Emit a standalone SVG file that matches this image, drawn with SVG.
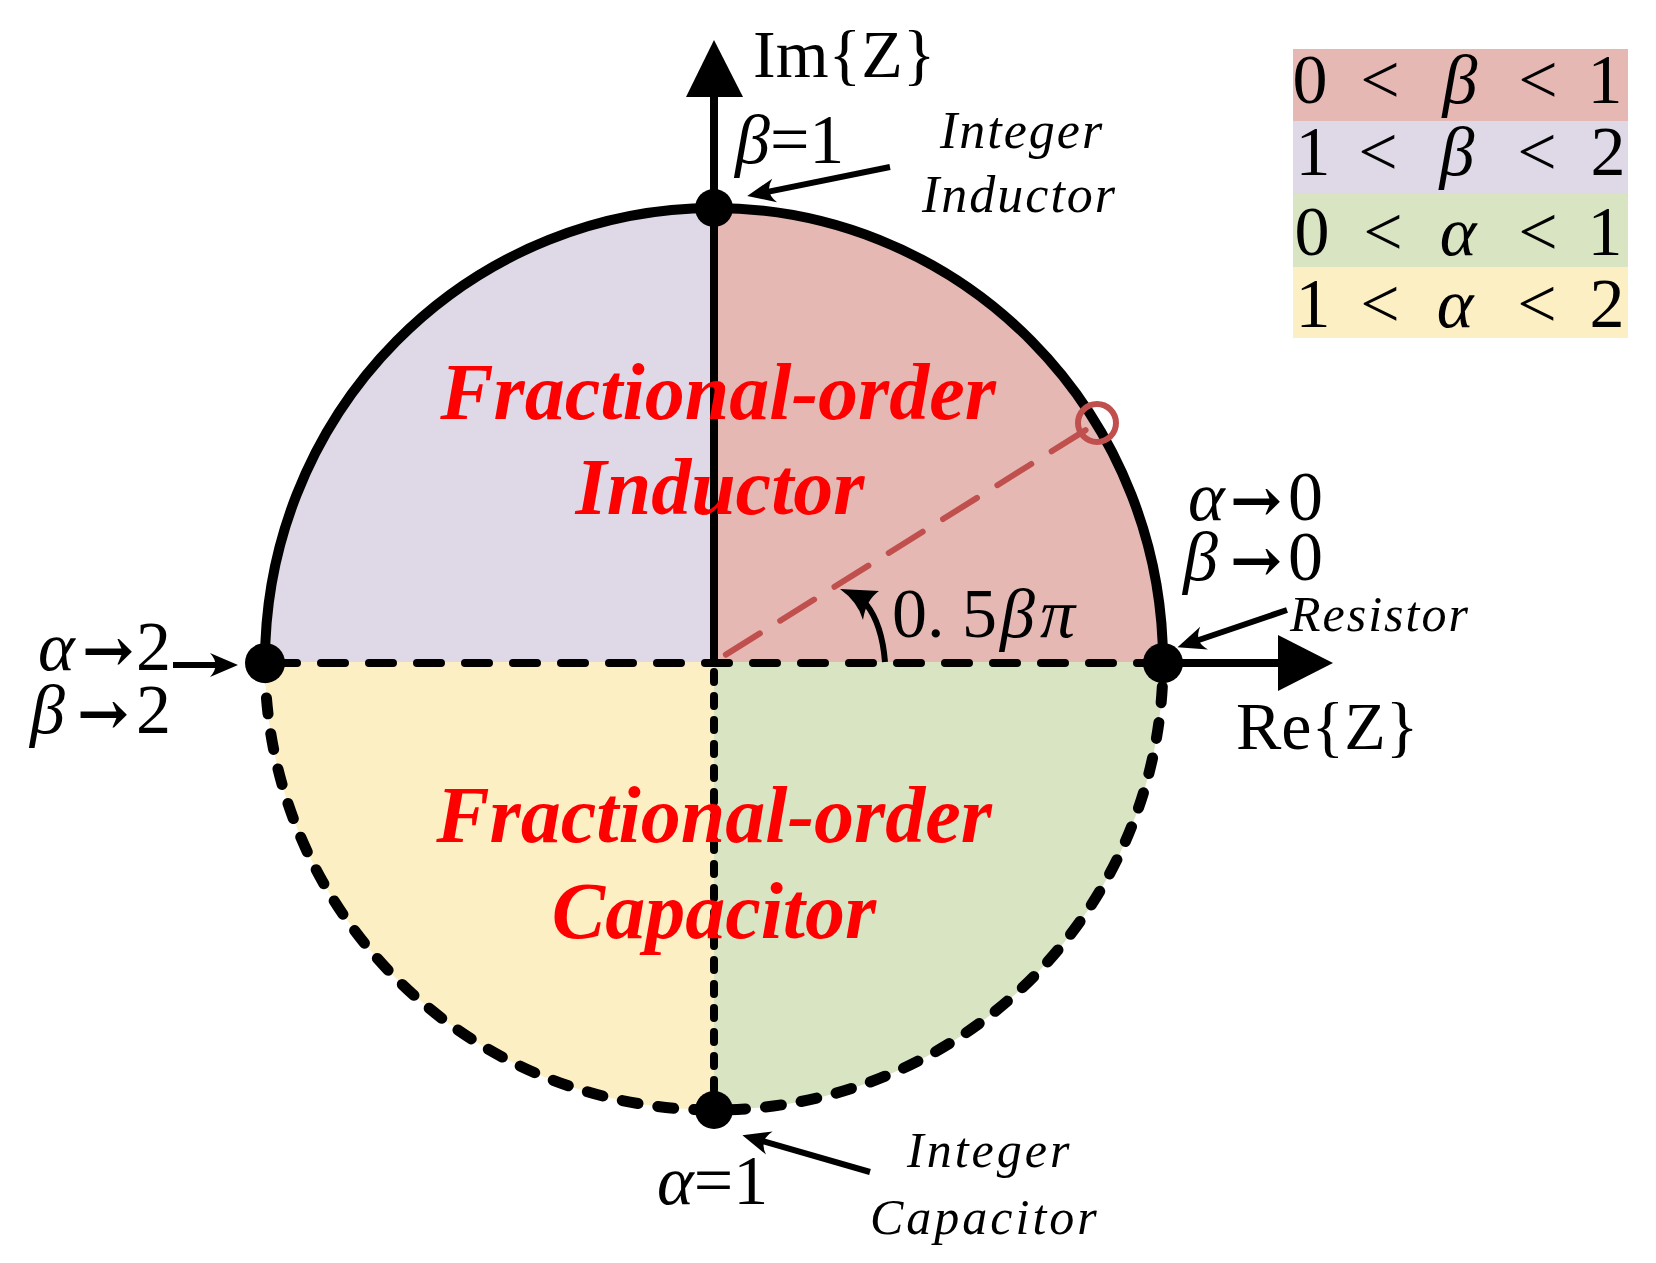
<svg xmlns="http://www.w3.org/2000/svg" width="1656" height="1263" viewBox="0 0 1656 1263">
<style>
.t{font-family:"Liberation Serif","Times New Roman",serif;fill:#000}
.i{font-style:italic}
.ar{font-family:"DejaVu Serif","Liberation Serif",serif;font-weight:bold;font-style:normal}
.red{font-family:"Liberation Serif","Times New Roman",serif;font-weight:bold;font-style:italic;fill:#FF0000;font-size:80px}
.ann{fill:none;stroke:#000;stroke-width:6;marker-end:url(#stealth)}
</style>
<defs>
<marker id="stealth" markerUnits="userSpaceOnUse" viewBox="-30 -14 42 28" refX="-10" refY="0" markerWidth="42" markerHeight="28" orient="auto">
<path d="M0,0 L-28,-12 Q-17,0 -28,12 Z" fill="#000"/>
</marker>
</defs>
<rect width="1656" height="1263" fill="#fff"/>

<g id="regions">
<path d="M714,662 L1163,662 A449,454 0 0 0 714,208 Z" fill="#E6B8B3"/>
<path d="M714,662 L714,208 A449,454 0 0 0 265,662 Z" fill="#DFD8E6"/>
<path d="M714,662 L265,662 A449,448 0 0 0 714,1110 Z" fill="#FDEFC4"/>
<path d="M714,662 L714,1110 A449,448 0 0 0 1163,662 Z" fill="#D8E4C2"/>
</g>

<g id="connectors">
<path d="M265,662 A449,454 0 0 1 1163,662" fill="none" stroke="#000" stroke-width="10"/>
<path d="M265,662 A449,448 0 0 0 1163,662" fill="none" stroke="#000" stroke-width="11" stroke-dasharray="16 20" stroke-linecap="round"/>
<line x1="270" y1="663" x2="1160" y2="663" stroke="#000" stroke-width="8" stroke-dasharray="24 24" stroke-dashoffset="-3" stroke-linecap="round"/>
<line x1="714" y1="90" x2="714" y2="662" stroke="#000" stroke-width="8"/>
<line x1="714" y1="672" x2="714" y2="1100" stroke="#000" stroke-width="8" stroke-dasharray="10 14" stroke-linecap="round"/>
<path d="M714,40 L743,97 L686,97 Z" fill="#000"/>
<line x1="1163" y1="663" x2="1285" y2="663" stroke="#000" stroke-width="8"/>
<path d="M1333,663 L1278,635 L1278,691 Z" fill="#000"/>
<line x1="714" y1="662" x2="1097" y2="423" stroke="#C0504D" stroke-width="6" stroke-dasharray="40 24" stroke-dashoffset="-14" stroke-linecap="round"/>
<circle cx="1097" cy="423" r="19" fill="none" stroke="#C0504D" stroke-width="6"/>
<path d="M885,662 Q882,624 866,604" fill="none" stroke="#000" stroke-width="6"/>
<path d="M840,589 L879,591 Q866,600 863,620 Q858,602 840,589 Z" fill="#000"/>
<line class="ann" x1="890" y1="167" x2="757" y2="194"/>
<line class="ann" x1="1287" y1="610" x2="1187" y2="644"/>
<line class="ann" x1="870" y1="1172" x2="752" y2="1138"/>
<line class="ann" x1="173" y1="665" x2="228" y2="665"/>
</g>

<g id="dots">
<circle cx="714" cy="208" r="19" fill="#000"/>
<circle cx="265" cy="663" r="20" fill="#000"/>
<circle cx="1163" cy="663" r="20" fill="#000"/>
<circle cx="714" cy="1110" r="19" fill="#000"/>
</g>

<g id="legend">
<rect x="1293" y="49" width="335" height="72" fill="#E6B8B3"/>
<rect x="1293" y="121" width="335" height="73" fill="#DFD8E6"/>
<rect x="1293" y="194" width="335" height="73" fill="#D8E4C2"/>
<rect x="1293" y="267" width="335" height="71" fill="#FDEFC4"/>
<text class="t" font-size="70" text-anchor="middle" y="103"><tspan x="1310">0</tspan><tspan x="1380">&lt;</tspan><tspan x="1460" class="i">β</tspan><tspan x="1538">&lt;</tspan><tspan x="1605">1</tspan></text>
<text class="t" font-size="70" text-anchor="middle" y="175"><tspan x="1313">1</tspan><tspan x="1378">&lt;</tspan><tspan x="1457" class="i">β</tspan><tspan x="1537">&lt;</tspan><tspan x="1608">2</tspan></text>
<text class="t" font-size="70" text-anchor="middle" y="255"><tspan x="1312">0</tspan><tspan x="1383">&lt;</tspan><tspan x="1458" class="i">α</tspan><tspan x="1538">&lt;</tspan><tspan x="1605">1</tspan></text>
<text class="t" font-size="70" text-anchor="middle" y="327"><tspan x="1313">1</tspan><tspan x="1380">&lt;</tspan><tspan x="1455" class="i">α</tspan><tspan x="1537">&lt;</tspan><tspan x="1607">2</tspan></text>
</g>

<g id="labels">
<text class="t" font-size="68" x="753" y="77">Im{Z}</text>
<text class="t" font-size="68" x="1236" y="749">Re{Z}</text>
<text class="t" font-size="70" x="735" y="163"><tspan class="i">β</tspan>=1</text>
<text class="t" font-size="70" x="657" y="1204"><tspan class="i">α</tspan>=1</text>
<text class="t i" font-size="52" letter-spacing="2" x="940" y="148">Integer</text>
<text class="t i" font-size="52" letter-spacing="2" x="922" y="212">Inductor</text>
<text class="t i" font-size="50" letter-spacing="3" x="907" y="1167">Integer</text>
<text class="t i" font-size="50" letter-spacing="3" x="870" y="1234">Capacitor</text>
<text class="t i" font-size="50" letter-spacing="2" x="1290" y="631">Resistor</text>
<text class="t" font-size="70" y="520"><tspan class="i" x="1188">α</tspan><tspan class="ar" font-size="62" x="1230" dy="2">→</tspan><tspan x="1288" dy="-2">0</tspan></text>
<text class="t" font-size="70" y="580"><tspan class="i" x="1183">β</tspan><tspan class="ar" font-size="62" x="1230" dy="2">→</tspan><tspan x="1288" dy="-2">0</tspan></text>
<text class="t" font-size="70" y="670"><tspan class="i" x="38">α</tspan><tspan class="ar" font-size="62" x="82" dy="2">→</tspan><tspan x="136" dy="-2">2</tspan></text>
<text class="t" font-size="70" y="733"><tspan class="i" x="30">β</tspan><tspan class="ar" font-size="62" x="77" dy="2">→</tspan><tspan x="136" dy="-2">2</tspan></text>
<text class="t" font-size="70" y="637"><tspan x="892">0. 5</tspan><tspan class="i" x="1000">β</tspan><tspan class="i" x="1040">π</tspan></text>
</g>

<g id="region-labels">
<text class="red" x="718" y="419" text-anchor="middle">Fractional-order</text>
<text class="red" x="720" y="514" text-anchor="middle">Inductor</text>
<text class="red" x="714" y="842" text-anchor="middle">Fractional-order</text>
<text class="red" x="714" y="938" text-anchor="middle">Capacitor</text>
</g>
</svg>
